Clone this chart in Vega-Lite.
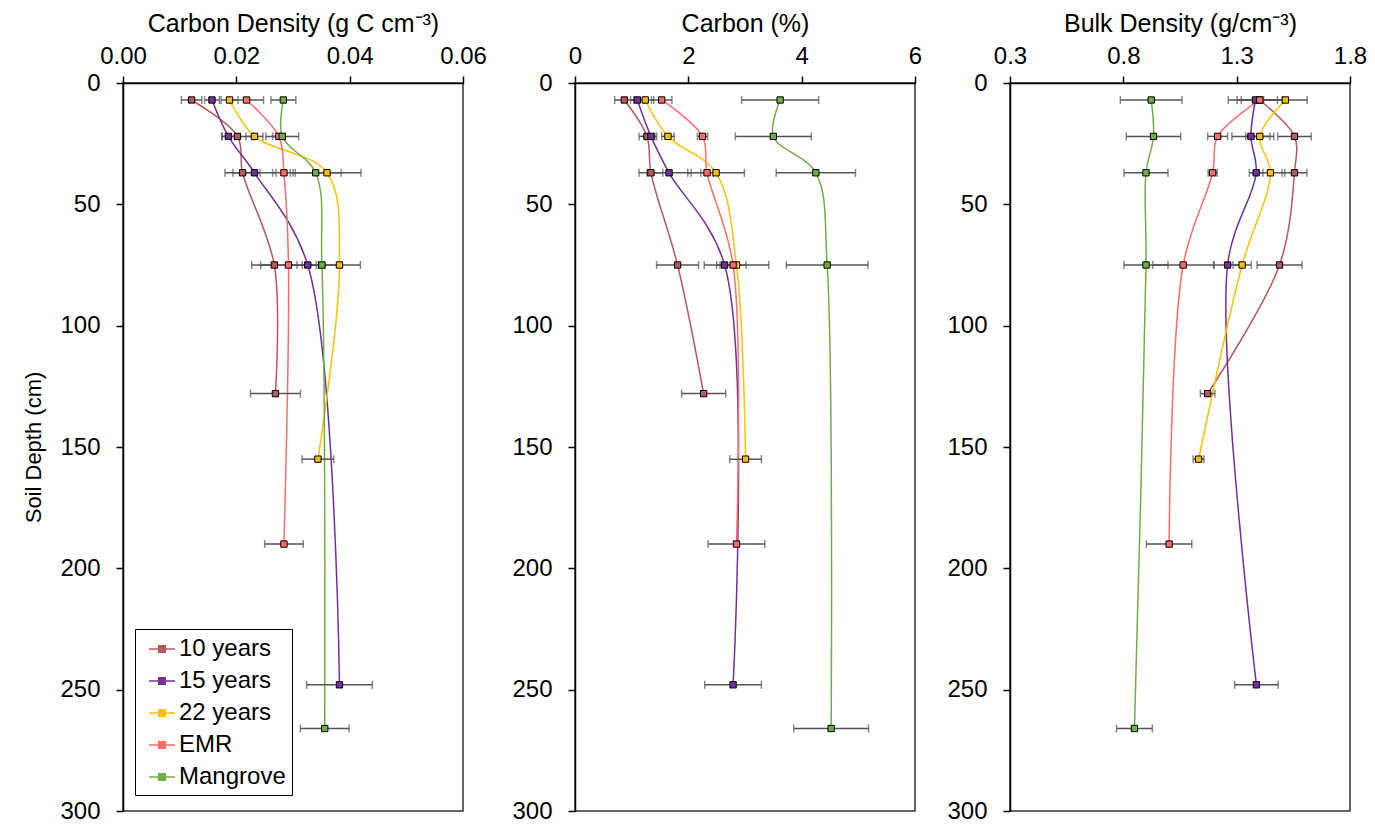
{
  "$schema": "https://vega.github.io/schema/vega-lite/v6.json",
  "padding": {"left": 22, "top": 10, "right": 5, "bottom": 5},
  "background": "white",
  "config": {
    "font": "Liberation Sans",
    "view": {"stroke": "#333333", "strokeWidth": 1.5},
    "axis": {
      "labelFont": "Liberation Sans", "titleFont": "Liberation Sans",
      "labelFontSize": 24, "titleFontSize": 25, "titleFontWeight": "normal",
      "labelColor": "#000", "titleColor": "#000", "labelFlush": false,
      "domainColor": "#000", "tickColor": "#000", "domainWidth": 1.5, "tickWidth": 1.5,
      "tickSize": 7, "grid": false
    }
  },
  "datasets": {
    "soil": [
      {"s": "10 years", "d": 7, "cd": 0.0121, "cde": 0.0018, "c": 0.87, "ce": 0.17, "bd": 1.40, "bde": 0.08},
      {"s": "10 years", "d": 22, "cd": 0.0202, "cde": 0.0028, "c": 1.27, "ce": 0.14, "bd": 1.555, "bde": 0.074},
      {"s": "10 years", "d": 37, "cd": 0.0211, "cde": 0.0031, "c": 1.34, "ce": 0.21, "bd": 1.555, "bde": 0.055},
      {"s": "10 years", "d": 75, "cd": 0.0267, "cde": 0.0040, "c": 1.81, "ce": 0.37, "bd": 1.489, "bde": 0.099},
      {"s": "10 years", "d": 128, "cd": 0.0269, "cde": 0.0044, "c": 2.27, "ce": 0.39, "bd": 1.172, "bde": 0.032},
      {"s": "15 years", "d": 7, "cd": 0.0157, "cde": 0.0013, "c": 1.10, "ce": 0.12, "bd": 1.383, "bde": 0.12},
      {"s": "15 years", "d": 22, "cd": 0.0186, "cde": 0.0011, "c": 1.34, "ce": 0.10, "bd": 1.363, "bde": 0.084},
      {"s": "15 years", "d": 37, "cd": 0.0232, "cde": 0.0038, "c": 1.66, "ce": 0.39, "bd": 1.386, "bde": 0.03},
      {"s": "15 years", "d": 75, "cd": 0.0326, "cde": 0.0030, "c": 2.64, "ce": 0.14, "bd": 1.26, "bde": 0.06},
      {"s": "15 years", "d": 248, "cd": 0.0382, "cde": 0.0058, "c": 2.79, "ce": 0.50, "bd": 1.387, "bde": 0.096},
      {"s": "22 years", "d": 7, "cd": 0.0188, "cde": 0.0015, "c": 1.24, "ce": 0.15, "bd": 1.515, "bde": 0.096},
      {"s": "22 years", "d": 22, "cd": 0.0232, "cde": 0.0015, "c": 1.64, "ce": 0.11, "bd": 1.402, "bde": 0.062},
      {"s": "22 years", "d": 37, "cd": 0.0360, "cde": 0.0060, "c": 2.49, "ce": 0.50, "bd": 1.449, "bde": 0.063},
      {"s": "22 years", "d": 75, "cd": 0.0382, "cde": 0.0037, "c": 2.85, "ce": 0.57, "bd": 1.324, "bde": 0.04},
      {"s": "22 years", "d": 155, "cd": 0.0344, "cde": 0.0028, "c": 3.01, "ce": 0.28, "bd": 1.132, "bde": 0.024},
      {"s": "EMR", "d": 7, "cd": 0.0218, "cde": 0.0030, "c": 1.53, "ce": 0.18, "bd": 1.402, "bde": 0.10},
      {"s": "EMR", "d": 22, "cd": 0.0275, "cde": 0.0011, "c": 2.25, "ce": 0.09, "bd": 1.216, "bde": 0.044},
      {"s": "EMR", "d": 37, "cd": 0.0284, "cde": 0.0020, "c": 2.33, "ce": 0.11, "bd": 1.194, "bde": 0.02},
      {"s": "EMR", "d": 75, "cd": 0.0292, "cde": 0.0049, "c": 2.79, "ce": 0.23, "bd": 1.064, "bde": 0.134},
      {"s": "EMR", "d": 190, "cd": 0.0284, "cde": 0.0034, "c": 2.85, "ce": 0.50, "bd": 1.002, "bde": 0.10},
      {"s": "Mangrove", "d": 7, "cd": 0.0283, "cde": 0.0022, "c": 3.62, "ce": 0.68, "bd": 0.923, "bde": 0.136},
      {"s": "Mangrove", "d": 22, "cd": 0.0281, "cde": 0.0029, "c": 3.50, "ce": 0.67, "bd": 0.933, "bde": 0.12},
      {"s": "Mangrove", "d": 37, "cd": 0.0340, "cde": 0.0045, "c": 4.25, "ce": 0.70, "bd": 0.900, "bde": 0.097},
      {"s": "Mangrove", "d": 75, "cd": 0.0351, "cde": 0.0035, "c": 4.45, "ce": 0.72, "bd": 0.900, "bde": 0.097},
      {"s": "Mangrove", "d": 266, "cd": 0.0356, "cde": 0.0043, "c": 4.52, "ce": 0.66, "bd": 0.849, "bde": 0.079}
    ]
  },
  "data": {"name": "soil"},
  "spacing": 23,
  "resolve": {"legend": {"color": "independent", "fill": "independent"}},
  "hconcat": [
    {
      "width": 340, "height": 728,
      "encoding": {
        "x": {"field": "cd", "type": "quantitative", "scale": {"domain": [0, 0.06], "nice": false, "zero": false},
              "axis": {"orient": "top", "values": [0, 0.02, 0.04, 0.06], "format": ".2f", "title": "Carbon Density (g C cm⁻³)", "labelPadding": 8, "titlePadding": 8}},
        "y": {"field": "d", "type": "quantitative", "scale": {"domain": [0, 300], "reverse": true, "nice": false},
              "axis": {"values": [0, 50, 100, 150, 200, 250, 300], "title": "Soil Depth (cm)", "labelPadding": 16, "titlePadding": 14, "titleFontSize": 22}}
      },
      "layer": [
        {"mark": {"type": "line", "interpolate": "catmull-rom", "strokeWidth": 1.5},
         "encoding": {"color": {"field": "s", "type": "nominal",
            "scale": {"domain": ["10 years", "15 years", "22 years", "EMR", "Mangrove"], "range": ["#b5595f", "#7030a0", "#ffc000", "#ff6b6b", "#70ad47"]},
            "legend": {"orient": "none", "legendX": 12, "legendY": 546, "title": null,
              "symbolType": "M-1,0L-0.25,0M0.25,0L1,0M-0.25,-0.25L0.25,-0.25L0.25,0.25L-0.25,0.25Z",
              "symbolSize": 676, "symbolStrokeWidth": 1.5, "symbolOffset": 7, "labelFontSize": 24, "labelFont": "Liberation Sans", "labelColor": "#000",
              "strokeColor": "#000", "fillColor": "#fff", "padding": 6, "rowPadding": 6, "labelOffset": 3,
              "encode": {"symbols": {"update": {"fill": {"scale": "color", "field": "value"}, "stroke": {"scale": "color", "field": "value"}}}}}},
           "order": {"field": "d", "type": "quantitative"}}},
        {"mark": {"type": "errorbar", "ticks": {"size": 8}, "color": "#555555", "thickness": 1.5},
         "encoding": {"xError": {"field": "cde"}}},
        {"mark": {"type": "point", "shape": "square", "filled": true, "size": 40, "stroke": "#000", "strokeWidth": 1, "opacity": 1},
         "encoding": {"fill": {"field": "s", "type": "nominal",
            "scale": {"domain": ["10 years", "15 years", "22 years", "EMR", "Mangrove"], "range": ["#b5595f", "#7030a0", "#ffc000", "#ff6b6b", "#70ad47"]}, "legend": null}}}
      ]
    },
    {
      "width": 340, "height": 728,
      "encoding": {
        "x": {"field": "c", "type": "quantitative", "scale": {"domain": [0, 6], "nice": false, "zero": false},
              "axis": {"orient": "top", "values": [0, 2, 4, 6], "format": "d", "title": "Carbon (%)", "labelPadding": 8, "titlePadding": 8}},
        "y": {"field": "d", "type": "quantitative", "scale": {"domain": [0, 300], "reverse": true, "nice": false},
              "axis": {"values": [0, 50, 100, 150, 200, 250, 300], "title": null, "labelPadding": 16}}
      },
      "layer": [
        {"mark": {"type": "line", "interpolate": "catmull-rom", "strokeWidth": 1.5},
         "encoding": {"color": {"field": "s", "type": "nominal",
            "scale": {"domain": ["10 years", "15 years", "22 years", "EMR", "Mangrove"], "range": ["#b5595f", "#7030a0", "#ffc000", "#ff6b6b", "#70ad47"]}, "legend": null},
           "order": {"field": "d", "type": "quantitative"}}},
        {"mark": {"type": "errorbar", "ticks": {"size": 8}, "color": "#555555", "thickness": 1.5},
         "encoding": {"xError": {"field": "ce"}}},
        {"mark": {"type": "point", "shape": "square", "filled": true, "size": 40, "stroke": "#000", "strokeWidth": 1, "opacity": 1},
         "encoding": {"fill": {"field": "s", "type": "nominal",
            "scale": {"domain": ["10 years", "15 years", "22 years", "EMR", "Mangrove"], "range": ["#b5595f", "#7030a0", "#ffc000", "#ff6b6b", "#70ad47"]}, "legend": null}}}
      ]
    },
    {
      "width": 340, "height": 728,
      "encoding": {
        "x": {"field": "bd", "type": "quantitative", "scale": {"domain": [0.3, 1.8], "nice": false, "zero": false},
              "axis": {"orient": "top", "values": [0.3, 0.8, 1.3, 1.8], "format": ".1f", "title": "Bulk Density (g/cm⁻³)", "labelPadding": 8, "titlePadding": 8}},
        "y": {"field": "d", "type": "quantitative", "scale": {"domain": [0, 300], "reverse": true, "nice": false},
              "axis": {"values": [0, 50, 100, 150, 200, 250, 300], "title": null, "labelPadding": 16}}
      },
      "layer": [
        {"mark": {"type": "line", "interpolate": "catmull-rom", "strokeWidth": 1.5},
         "encoding": {"color": {"field": "s", "type": "nominal",
            "scale": {"domain": ["10 years", "15 years", "22 years", "EMR", "Mangrove"], "range": ["#b5595f", "#7030a0", "#ffc000", "#ff6b6b", "#70ad47"]}, "legend": null},
           "order": {"field": "d", "type": "quantitative"}}},
        {"mark": {"type": "errorbar", "ticks": {"size": 8}, "color": "#555555", "thickness": 1.5},
         "encoding": {"xError": {"field": "bde"}}},
        {"mark": {"type": "point", "shape": "square", "filled": true, "size": 40, "stroke": "#000", "strokeWidth": 1, "opacity": 1},
         "encoding": {"fill": {"field": "s", "type": "nominal",
            "scale": {"domain": ["10 years", "15 years", "22 years", "EMR", "Mangrove"], "range": ["#b5595f", "#7030a0", "#ffc000", "#ff6b6b", "#70ad47"]}, "legend": null}}}
      ]
    }
  ]
}
